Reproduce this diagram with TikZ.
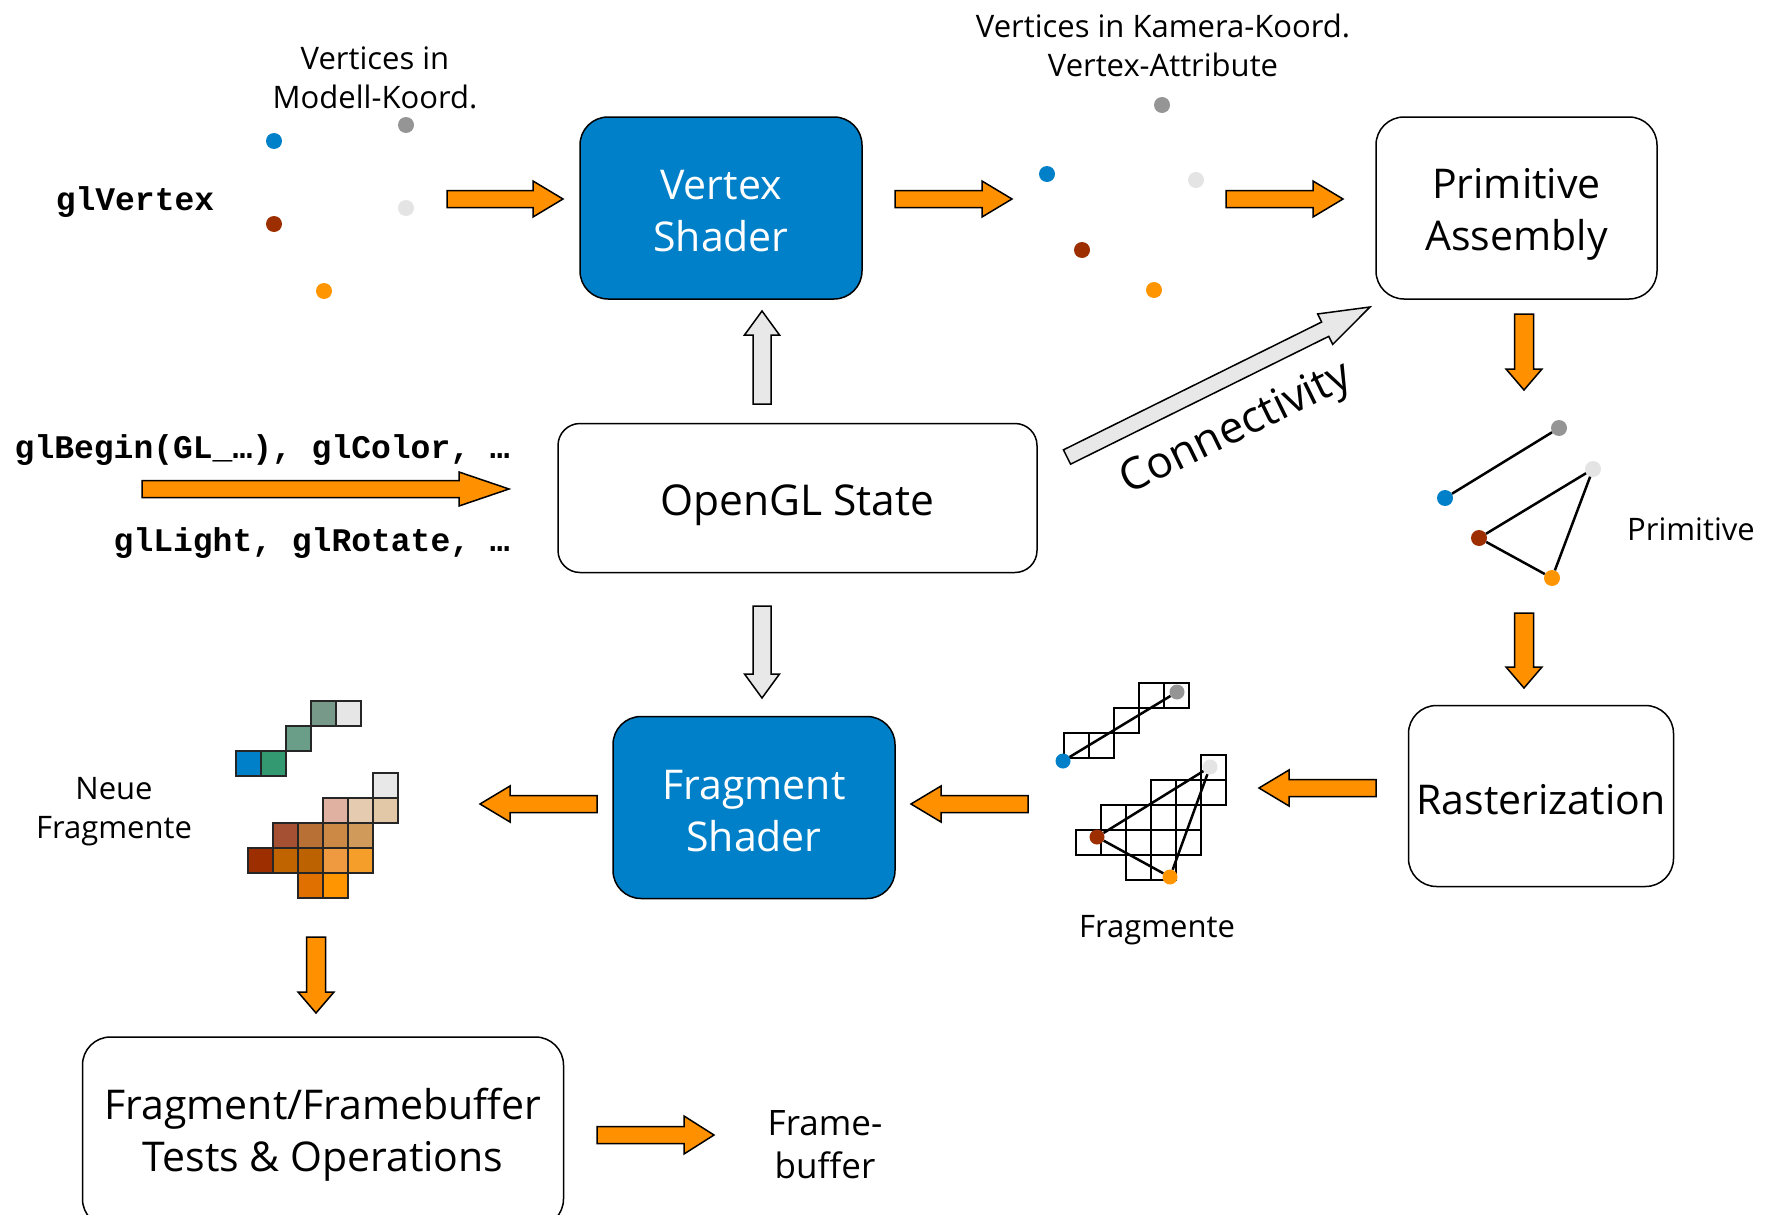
\documentclass[tikz,border=0pt]{standalone}
\usepackage{fontspec}
\setmainfont{Open Sans}
\setmonofont{Liberation Mono}
\usetikzlibrary{calc}

\definecolor{vblue}{HTML}{0080C8}
\definecolor{vgray}{HTML}{959595}
\definecolor{vbrown}{HTML}{9C2E00}
\definecolor{vlight}{HTML}{E4E4E4}
\definecolor{vorange}{HTML}{FF9500}
\definecolor{arrorange}{HTML}{FF9100}
\definecolor{arrgray}{HTML}{E8E8E8}
\definecolor{cT1}{HTML}{339970}
\definecolor{cT2}{HTML}{6A9E89}
\definecolor{cT3}{HTML}{76998A}
\definecolor{cT4}{HTML}{E6E6E6}
\definecolor{cA5}{HTML}{E8E8E8}
\definecolor{cB3}{HTML}{E0B0A0}\definecolor{cB4}{HTML}{E5CBB0}\definecolor{cB5}{HTML}{E3C8A8}
\definecolor{cC1}{HTML}{A55032}\definecolor{cC2}{HTML}{B87035}\definecolor{cC3}{HTML}{CC8845}\definecolor{cC4}{HTML}{D09A5A}
\definecolor{cD0}{HTML}{9C2E00}\definecolor{cD1}{HTML}{C06400}\definecolor{cD2}{HTML}{BC6200}\definecolor{cD3}{HTML}{EF9A40}\definecolor{cD4}{HTML}{F59E2A}
\definecolor{cE2}{HTML}{E07000}\definecolor{cE3}{HTML}{FF9500}

\newcommand\fs[2]{\fontsize{#1}{#2}\selectfont}
\newcommand\strt[1]{\rule{0pt}{#1}}
% #1 style, #2 from, #3 to, #4 shaft half width, #5 head half width, #6 head length
\newcommand\blockarrow[6]{%
  \coordinate (ba-h) at ($(#3)!#6!(#2)$);
  \draw[#1] ($(#2)!#4!90:(#3)$) -- ($(ba-h)!#4!90:(#3)$) -- ($(ba-h)!#5!90:(#3)$) -- (#3)
    -- ($(ba-h)!#5!-90:(#3)$) -- ($(ba-h)!#4!-90:(#3)$) -- ($(#2)!#4!-90:(#3)$) -- cycle;
}
\newcommand\ccell[3]{\draw[ccellstyle, fill=#3] (#1,#2) rectangle ++(25,25);}
\newcommand\wcell[2]{\draw[wcellstyle] (#1,#2) rectangle ++(25,25);}

\tikzset{
  box/.style={draw=black, line width=1.5pt, rounded corners=28pt, align=center,
    inner sep=0pt, font=\fs{41}{52}},
  bluebox/.style={box, fill=vblue, text=white},
  dot/.style={circle, inner sep=0pt, minimum size=16pt},
  sdot/.style={circle, inner sep=0pt, minimum size=15pt},
  oarrow/.style={draw=black, fill=arrorange, line width=1.5pt},
  garrow/.style={draw=black, fill=arrgray, line width=1.5pt},
  lbl/.style={align=center, inner sep=0pt, font=\fs{31}{39}},
  code/.style={inner sep=0pt, font=\ttfamily\bfseries\fs{33}{40}},
  ccellstyle/.style={draw=black!85, line width=2.5pt},
  wcellstyle/.style={draw=black, line width=2pt},
  edge/.style={draw=black, line width=2.5pt},
}

\begin{document}
\begin{tikzpicture}[x=1pt, y=-1pt]
\useasboundingbox (0,0) rectangle (1767,1215);
\fill[white] (0,0) rectangle (1767,1215);

% ---------- boxes ----------
\node[bluebox, minimum width=282pt, minimum height=182pt] (vs) at (721,208) {\strt{36pt}Vertex\\Shader};
\node[box, minimum width=281pt, minimum height=182pt] (pa) at (1516.5,208) {\strt{42pt}Primitive\\Assembly};
\node[box, rounded corners=22pt, minimum width=479pt, minimum height=149pt, font=\fs{42.5}{52}] (state) at (797.5,498) {\strt{45pt}OpenGL State};
\node[box, minimum width=265pt, minimum height=181pt] (rast) at (1541,796) {\strt{38pt}Rasterization};
\node[bluebox, minimum width=282pt, minimum height=182pt] (fs) at (754,807.5) {\strt{36pt}Fragment\\Shader};
\begin{scope}
  \clip (0,0) rectangle (1767,1215);
  \node[box, minimum width=481pt, minimum height=190pt] (tests) at (323,1132) {\strt{36pt}Fragment/Framebuffer\\Tests \& Operations};
\end{scope}

% ---------- labels ----------
\node[lbl] (lmod) at (375,78) {Vertices in\\Modell-Koord.};
\node[lbl] (lcam) at (1163,45) {Vertices in Kamera-Koord.\\Vertex-Attribute};
\node[lbl] (lprim) at (1691,529) {Primitive};
\node[lbl] (lfrag) at (1157,930) {Fragmente};
\node[lbl] (lneu) at (114,812) {Neue\\Fragmente};
\node[lbl, font=\fs{35}{43}] (lfb) at (825,1145) {Frame-\\buffer};
\node[inner sep=0pt, font=\fs{44}{50}, rotate=26] (lconn) at (1237,430) {Connectivity};

\node[code] (cvert) at (135,202) {glVertex};
\node[code, anchor=east] (cbegin) at (510,450) {glBegin(GL\_…), glColor, …};
\node[code, anchor=east] (clight) at (510,543) {glLight, glRotate, …};

% ---------- arrows ----------
\coordinate (a1s) at (447,199);  \coordinate (a1e) at (563,199);
\coordinate (a2s) at (895,199);  \coordinate (a2e) at (1012,199);
\coordinate (a3s) at (1226,199); \coordinate (a3e) at (1343,199);
\coordinate (a4s) at (1524,314); \coordinate (a4e) at (1524,390);
\coordinate (a5s) at (1524,613); \coordinate (a5e) at (1524,688);
\coordinate (a6s) at (1376,788); \coordinate (a6e) at (1259,788);
\coordinate (a7s) at (1028,804); \coordinate (a7e) at (911,804);
\coordinate (a8s) at (597,804);  \coordinate (a8e) at (480,804);
\coordinate (a9s) at (316,937);  \coordinate (a9e) at (316,1013);
\coordinate (a10s) at (597,1135); \coordinate (a10e) at (714,1135);
\coordinate (a11s) at (142,489); \coordinate (a11e) at (509,489);
\coordinate (g1s) at (762,404);  \coordinate (g1e) at (762,311);
\coordinate (g2s) at (762,606);  \coordinate (g2e) at (762,698);
\coordinate (cs) at (1067,457);  \coordinate (ce) at (1370,307);

\blockarrow{oarrow}{a1s}{a1e}{8.5pt}{18pt}{30pt}
\blockarrow{oarrow}{a2s}{a2e}{8.5pt}{18pt}{30pt}
\blockarrow{oarrow}{a3s}{a3e}{8.5pt}{18pt}{30pt}
\blockarrow{oarrow}{a4s}{a4e}{9.5pt}{18pt}{21pt}
\blockarrow{oarrow}{a5s}{a5e}{9.5pt}{18pt}{21pt}
\blockarrow{oarrow}{a6s}{a6e}{8.5pt}{18pt}{30pt}
\blockarrow{oarrow}{a7s}{a7e}{8.5pt}{18pt}{30pt}
\blockarrow{oarrow}{a8s}{a8e}{8.5pt}{18pt}{30pt}
\blockarrow{oarrow}{a9s}{a9e}{9.5pt}{18pt}{21pt}
\blockarrow{oarrow}{a10s}{a10e}{8.5pt}{19pt}{30pt}
\blockarrow{oarrow}{a11s}{a11e}{8.5pt}{17pt}{50pt}
\blockarrow{garrow}{g1s}{g1e}{9pt}{17.5pt}{24pt}
\blockarrow{garrow}{g2s}{g2e}{9pt}{17.5pt}{24pt}
\blockarrow{garrow}{cs}{ce}{8pt}{17pt}{50pt}

% ---------- vertices in model coords ----------
\node[dot, fill=vblue] (m1) at (274,141) {};
\node[dot, fill=vgray] (m2) at (406,125) {};
\node[dot, fill=vbrown] (m3) at (274,224) {};
\node[dot, fill=vlight] (m4) at (406,208) {};
\node[dot, fill=vorange] (m5) at (324,291) {};

% ---------- vertices in camera coords ----------
\node[dot, fill=vgray] (k2) at (1162,105) {};
\node[dot, fill=vblue] (k1) at (1047,174) {};
\node[dot, fill=vlight] (k4) at (1196,180) {};
\node[dot, fill=vbrown] (k3) at (1082,250) {};
\node[dot, fill=vorange] (k5) at (1154,290) {};

% ---------- primitives ----------
\node[dot, fill=vgray] (p2) at (1559,428) {};
\node[dot, fill=vblue] (p1) at (1445,498) {};
\node[dot, fill=vlight] (p4) at (1593,469) {};
\node[dot, fill=vbrown] (p3) at (1479,538) {};
\node[dot, fill=vorange] (p5) at (1552,578) {};
\draw[edge] (p1) -- (p2);
\draw[edge] (p3) -- (p4);
\draw[edge] (p4) -- (p5);
\draw[edge] (p3) -- (p5);

% ---------- fragments (rasterized) ----------
\wcell{1064}{733}\wcell{1089}{733}\wcell{1114}{708}\wcell{1139}{683}\wcell{1164}{683}
\wcell{1201}{755}
\wcell{1151}{780}\wcell{1176}{780}\wcell{1201}{780}
\wcell{1101}{805}\wcell{1126}{805}\wcell{1151}{805}\wcell{1176}{805}
\wcell{1076}{830}\wcell{1101}{830}\wcell{1126}{830}\wcell{1151}{830}\wcell{1176}{830}
\wcell{1126}{855}\wcell{1151}{855}
\node[sdot, fill=vblue] (f1) at (1063,761) {};
\node[sdot, fill=vgray] (f2) at (1177,692) {};
\node[sdot, fill=vlight] (f4) at (1210,767) {};
\node[sdot, fill=vbrown] (f3) at (1097,837) {};
\node[sdot, fill=vorange] (f5) at (1170,877) {};
\draw[edge] (f1) -- (f2);
\draw[edge] (f3) -- (f4);
\draw[edge] (f4) -- (f5);
\draw[edge] (f3) -- (f5);

% ---------- new (shaded) fragments ----------
\ccell{236}{751}{vblue}\ccell{261}{751}{cT1}
\ccell{286}{726}{cT2}
\ccell{311}{701}{cT3}\ccell{336}{701}{cT4}

\ccell{373}{773}{cA5}
\ccell{323}{798}{cB3}\ccell{348}{798}{cB4}\ccell{373}{798}{cB5}
\ccell{273}{823}{cC1}\ccell{298}{823}{cC2}\ccell{323}{823}{cC3}\ccell{348}{823}{cC4}
\ccell{248}{848}{cD0}\ccell{273}{848}{cD1}\ccell{298}{848}{cD2}\ccell{323}{848}{cD3}\ccell{348}{848}{cD4}
\ccell{298}{873}{cE2}\ccell{323}{873}{cE3}
\end{tikzpicture}
\end{document}
